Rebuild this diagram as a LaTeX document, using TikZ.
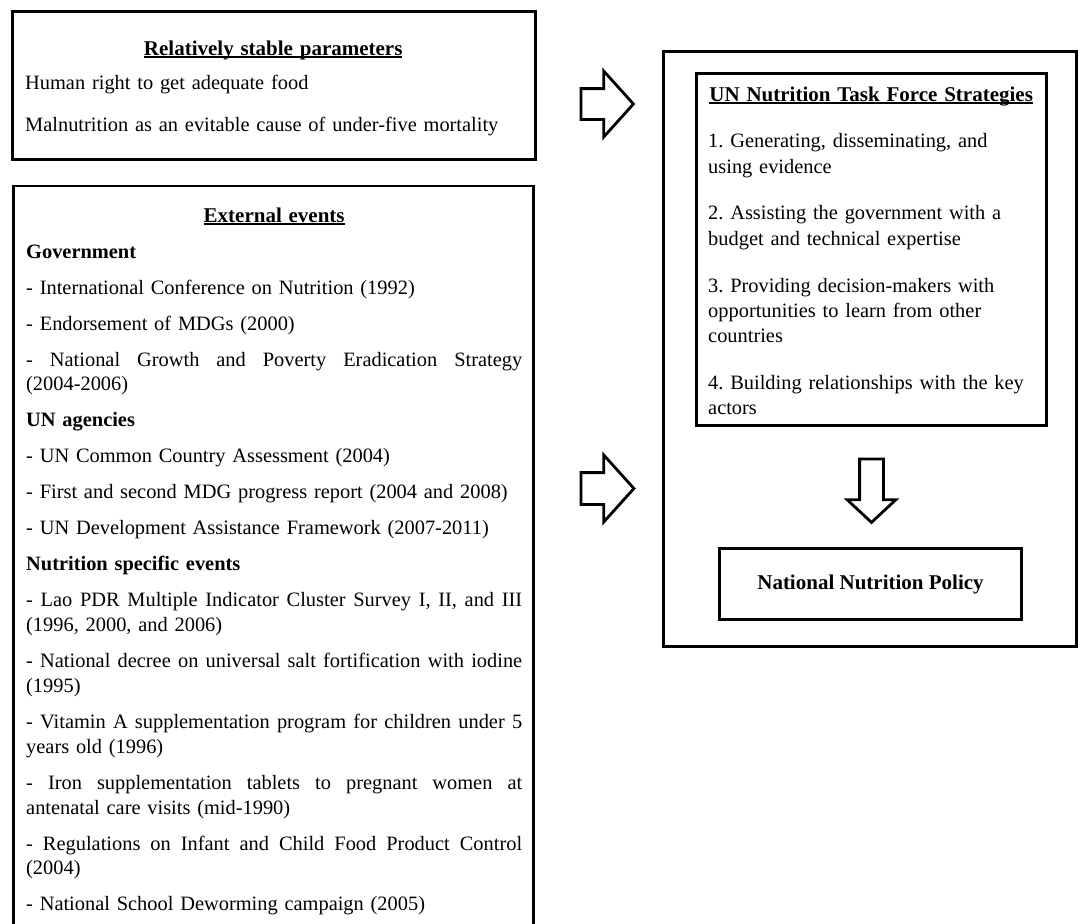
\documentclass[tikz,border=0pt]{standalone}
\usepackage{fontspec}
\setmainfont{Liberation Serif}
\usetikzlibrary{shapes.arrows,positioning}

% bold heading, underlined just below the baseline
\newcommand{\ulbf}[1]{\setbox0=\hbox{\bfseries #1}\rlap{\rule[-2.8pt]{\wd0}{1.5pt}}\box0}
% full (justified) line, words split by \hfill
\newcommand{\jline}[1]{\makebox[\linewidth][s]{#1}}
\newcommand{\evgap}{11.2pt}
\newcommand{\stgap}{21.5pt}

\begin{document}
\begin{tikzpicture}[x=1pt,y=-1pt,
    panel/.style={draw,rectangle,line width=2.8pt,inner sep=0pt},
    body/.style={inner sep=0pt,align=left,anchor=base west,
                 font=\fontsize{20.4}{24.8}\selectfont\frenchspacing},
    fat arrow/.style={single arrow,draw,line width=2.8pt,anchor=tail}]

  \useasboundingbox (0,0) rectangle (1080,924);

  % boxes
  \node[panel,minimum width=523pt,minimum height=148pt] (stable) at (274,85.5) {};
  \node[panel,minimum width=520pt,minimum height=752pt,anchor=north] (events) at (273.5,184.5) {};
  \node[panel,minimum width=413pt,minimum height=595pt] (frame) at (870,349) {};
  \node[panel,minimum width=350pt,minimum height=352pt] (strategies) at (871.5,249.5) {};
  \node[panel,minimum width=302pt,minimum height=71pt,
        font=\bfseries\fontsize{21}{25}\selectfont] (policy) at (870.5,584) {National Nutrition Policy};

  % block arrows
  \node[fat arrow,inner xsep=0pt,inner ysep=14pt,single arrow head extend=17.5pt,
        single arrow tip angle=96,minimum height=52.5pt] (toframeA) at (579.5,104) {};
  \node[fat arrow,inner xsep=0pt,inner ysep=14.5pt,single arrow head extend=17.5pt,
        single arrow tip angle=96,minimum height=53pt] (toframeB) at (579.5,488.5) {};
  \node[fat arrow,inner xsep=10.5pt,inner ysep=0pt,single arrow head extend=12.5pt,
        single arrow tip angle=94,minimum height=63.5pt,shape border rotate=270] (topolicy) at (871.5,457.5) {};

  % texts
  \node[body,text width=496pt] (stabletxt) at (25,55) {%
    \makebox[\linewidth][c]{\fontsize{21}{24.8}\selectfont\ulbf{Relatively stable parameters}}\\[10pt]
    Human right to get adequate food\\[17pt]
    Malnutrition as an evitable cause of under-five mortality};

  \node[body,text width=496pt] (eventstxt) at (26,222) {%
    \makebox[\linewidth][c]{\fontsize{21}{24.8}\selectfont\ulbf{External events}}\\[\evgap]
    \textbf{Government}\\[\evgap]
    - International Conference on Nutrition (1992)\\[\evgap]
    - Endorsement of MDGs (2000)\\[\evgap]
    \jline{-\hfill National\hfill Growth\hfill and\hfill Poverty\hfill Eradication\hfill Strategy}\\
    (2004-2006)\\[\evgap]
    \textbf{UN agencies}\\[\evgap]
    - UN Common Country Assessment (2004)\\[\evgap]
    - First and second MDG progress report (2004 and 2008)\\[\evgap]
    - UN Development Assistance Framework (2007-2011)\\[\evgap]
    \textbf{Nutrition specific events}\\[\evgap]
    \jline{-\hfill Lao\hfill PDR\hfill Multiple\hfill Indicator\hfill Cluster\hfill Survey\hfill I,\hfill II,\hfill and\hfill III}\\
    (1996, 2000, and 2006)\\[\evgap]
    \jline{-\hfill National\hfill decree\hfill on\hfill universal\hfill salt\hfill fortification\hfill with\hfill iodine}\\
    (1995)\\[\evgap]
    \jline{-\hfill Vitamin\hfill A\hfill supplementation\hfill program\hfill for\hfill children\hfill under\hfill 5}\\
    years old (1996)\\[\evgap]
    \jline{-\hfill Iron\hfill supplementation\hfill tablets\hfill to\hfill pregnant\hfill women\hfill at}\\
    antenatal care visits (mid-1990)\\[\evgap]
    \jline{-\hfill Regulations\hfill on\hfill Infant\hfill and\hfill Child\hfill Food\hfill Product\hfill Control}\\
    (2004)\\[\evgap]
    - National School Deworming campaign (2005)};

  \node[body,text width=340pt,font=\fontsize{20.4}{25.3}\selectfont\frenchspacing] (strategiestxt) at (708,101) {%
    \makebox[326pt][c]{\fontsize{21}{25.3}\selectfont\ulbf{UN Nutrition Task Force Strategies}}\\[\stgap]
    1. Generating, disseminating, and\\
    using evidence\\[\stgap]
    2. Assisting the government with a\\
    budget and technical expertise\\[\stgap]
    3. Providing decision-makers with\\
    opportunities to learn from other\\
    countries\\[\stgap]
    4. Building relationships with the key\\
    actors};
\end{tikzpicture}
\end{document}
